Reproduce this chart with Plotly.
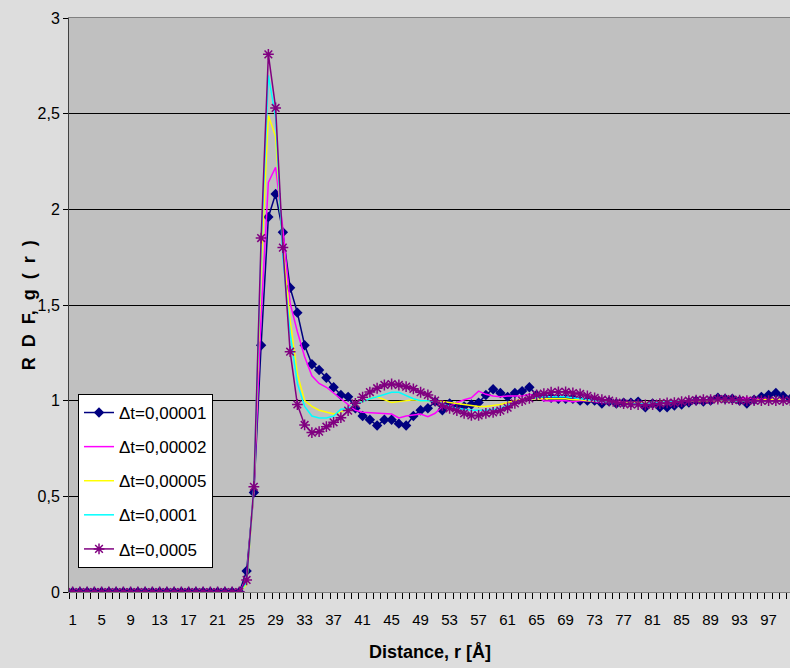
import plotly.graph_objects as go

r = list(range(1, 101))

dt_00001 = [0, 0, 0, 0, 0, 0, 0, 0, 0, 0, 0, 0, 0, 0, 0, 0, 0, 0, 0, 0, 0, 0, 0, 0,
            0.11, 0.52, 1.29, 1.96, 2.08, 1.88, 1.59, 1.46, 1.29, 1.19, 1.16, 1.12, 1.07, 1.03, 1.02, 0.96,
            0.92, 0.90, 0.87, 0.90, 0.90, 0.88, 0.87, 0.92, 0.95, 0.96, 0.995, 0.95, 0.985, 0.97, 0.97, 0.98,
            0.99, 1.03, 1.06, 1.04, 1.02, 1.04, 1.05, 1.07, 1.03, 1.02, 1.015, 1.01, 1.01, 1.01, 1.0, 1.0,
            1.0, 0.985, 0.995, 0.985, 0.99, 0.99, 0.995, 0.965, 0.985, 0.965, 0.965, 0.975, 0.98, 0.99, 1.0, 0.995,
            1.0, 1.015, 1.01, 1.01, 1.0, 0.985, 1.005, 1.02, 1.03, 1.04, 1.025, 1.01]

dt_00002 = [0, 0, 0, 0, 0, 0, 0, 0, 0, 0, 0, 0, 0, 0, 0, 0, 0, 0, 0, 0, 0, 0, 0, 0,
            0.07, 0.53, 1.45, 2.14, 2.22, 1.90, 1.51, 1.36, 1.23, 1.13, 1.09, 1.07, 1.04, 1.01, 0.985, 0.95,
            0.94, 0.937, 0.935, 0.93, 0.93, 0.91, 0.92, 0.925, 0.93, 0.916, 0.934, 0.97, 0.97, 0.99, 1.005, 1.015,
            1.05, 1.033, 1.024, 1.02, 1.024, 1.024, 1.024, 1.033, 1.02, 1.0, 0.998, 1.0, 1.0, 0.995, 1.0, 1.0,
            0.995, 0.99, 0.99, 0.995, 0.99, 0.99, 0.99, 0.985, 0.99, 0.99, 0.995, 0.995, 1.0, 1.0, 1.0, 1.005,
            1.0, 1.0, 1.005, 1.0, 1.01, 1.015, 1.01, 1.01, 1.005, 1.0, 1.0, 1.0]

dt_00005 = [0, 0, 0, 0, 0, 0, 0, 0, 0, 0, 0, 0, 0, 0, 0, 0, 0, 0, 0, 0, 0, 0, 0, 0,
            0.04, 0.54, 1.70, 2.49, 2.38, 1.80, 1.42, 1.14, 1.00, 0.97, 0.95, 0.94, 0.93, 0.94, 0.96, 0.98,
            0.995, 1.01, 1.02, 1.005, 0.99, 0.995, 1.0, 1.005, 1.0, 1.0, 0.998, 0.995, 0.99, 0.985, 0.98, 0.975,
            0.97, 0.97, 0.975, 0.98, 0.99, 1.0, 1.005, 1.01, 1.01, 1.01, 1.01, 1.01, 1.01, 1.005, 1.005, 1.0,
            1.0, 0.995, 0.995, 0.99, 0.99, 0.99, 0.99, 0.99, 0.99, 0.995, 0.995, 0.995, 1.0, 1.0, 1.0, 1.0,
            1.0, 1.0, 1.0, 1.0, 1.0, 1.0, 1.0, 1.005, 1.005, 1.005, 1.0, 1.0]

dt_0001 = [0, 0, 0, 0, 0, 0, 0, 0, 0, 0, 0, 0, 0, 0, 0, 0, 0, 0, 0, 0, 0, 0, 0, 0,
           0.05, 0.55, 1.80, 2.70, 2.48, 1.75, 1.35, 1.09, 0.97, 0.92, 0.91, 0.91, 0.92, 0.955, 0.96, 0.98,
           0.995, 1.01, 1.02, 1.03, 1.044, 1.044, 1.027, 1.01, 1.0, 1.0, 0.995, 0.985, 0.97, 0.96, 0.955, 0.95,
           0.95, 0.95, 0.955, 0.96, 0.975, 0.99, 1.0, 1.01, 1.015, 1.02, 1.02, 1.02, 1.02, 1.015, 1.01, 1.005,
           1.0, 0.995, 0.99, 0.99, 0.985, 0.985, 0.985, 0.985, 0.99, 0.99, 0.995, 0.995, 1.0, 1.0, 1.005, 1.005,
           1.005, 1.005, 1.005, 1.0, 1.0, 1.0, 1.0, 1.0, 1.0, 1.0, 1.0, 1.0]

dt_0005 = [0, 0, 0, 0, 0, 0, 0, 0, 0, 0, 0, 0, 0, 0, 0, 0, 0, 0, 0, 0, 0, 0, 0, 0,
           0.063, 0.55, 1.85, 2.81, 2.53, 1.80, 1.256, 0.98, 0.873, 0.833, 0.838, 0.864, 0.887, 0.911, 0.948, 0.986,
           1.018, 1.045, 1.065, 1.082, 1.087, 1.082, 1.073, 1.062, 1.044, 1.03, 1.0, 0.975, 0.96, 0.948, 0.934, 0.923,
           0.923, 0.934, 0.939, 0.948, 0.963, 0.986, 1.0, 1.012, 1.03, 1.037, 1.044, 1.046, 1.046, 1.04, 1.035, 1.025,
           1.015, 1.005, 1.0, 0.99, 0.985, 0.98, 0.98, 0.978, 0.98, 0.985, 0.988, 0.99, 0.995, 1.0, 1.003, 1.005,
           1.005, 1.008, 1.008, 1.005, 1.003, 1.0, 1.0, 1.0, 1.0, 1.0, 1.0, 1.0]

series_names = ["Δt=0,00001", "Δt=0,00002", "Δt=0,00005", "Δt=0,0001", "Δt=0,0005"]
x_tick_vals = list(range(1, 100, 4))
x_tick_text = [str(v) for v in x_tick_vals]

FONT = "Liberation Sans, Arial, sans-serif"
NB = "\u00a0"
y_title = "R" + NB * 2 + "D" + NB * 2 + "F," + NB * 2 + "g" + NB * 2 + "(" + NB * 2 + "r" + NB * 2 + ")"

fig = go.Figure()

fig.add_trace(go.Scatter(x=r, y=dt_00001, name=series_names[0], mode="lines+markers",
                         line=dict(color="#000080", width=1.5),
                         marker=dict(symbol="diamond", size=8, color="#000080"),
                         legendgroup="a"))
fig.add_trace(go.Scatter(x=r, y=dt_00002, name=series_names[1], mode="lines",
                         line=dict(color="#FF00FF", width=1.5), legendgroup="b"))
fig.add_trace(go.Scatter(x=r, y=dt_00005, name=series_names[2], mode="lines",
                         line=dict(color="#FFFF00", width=1.5), legendgroup="c"))
fig.add_trace(go.Scatter(x=r, y=dt_0001, name=series_names[3], mode="lines",
                         line=dict(color="#00FFFF", width=1.5), legendgroup="d"))
fig.add_trace(go.Scatter(x=r, y=dt_0005, name=series_names[4], mode="lines+markers",
                         line=dict(color="#800080", width=1.5),
                         marker=dict(symbol="asterisk-open", size=9,
                                     line=dict(color="#800080", width=1.5)),
                         legendgroup="e"))

fig.update_layout(
    width=790, height=668,
    margin=dict(l=69, r=0, t=18, b=76),
    paper_bgcolor="#DDDDDD",
    plot_bgcolor="#C0C0C0",
    separators=",.",
    font=dict(family=FONT, color="#000000", size=16),
    showlegend=True,
    legend=dict(x=0.0125, y=0.345, xanchor="left", yanchor="top",
                bgcolor="#FFFFFF", bordercolor="#000000", borderwidth=1,
                font=dict(family=FONT, size=17, color="#000000"),
                tracegroupgap=9, itemwidth=30),
    xaxis=dict(range=[0.5, 99.95], tickmode="array", tickvals=x_tick_vals, ticktext=x_tick_text,
               ticks="outside", ticklen=14, tickcolor="rgba(0,0,0,0)",
               showgrid=False, zeroline=False,
               showline=True, linecolor="#808080", linewidth=1, mirror=True,
               tickfont=dict(family=FONT, size=15),
               minor=dict(ticks="outside", tickmode="linear", tick0=0.5, dtick=1,
                          ticklen=6, tickcolor="#000000", showgrid=False)),
    yaxis=dict(range=[0, 3], dtick=0.5, tick0=0,
               ticks="outside", ticklen=5, tickcolor="#000000",
               showgrid=True, gridcolor="#000000", gridwidth=1,
               zeroline=False, showline=True, linecolor="#404040", linewidth=1,
               tickfont=dict(family=FONT, size=16)),
    annotations=[
        dict(text="<b>Distance, r [Å]</b>", x=0.5, y=-0.105, xref="paper", yref="paper",
             xanchor="center", yanchor="middle", showarrow=False,
             font=dict(family=FONT, size=18)),
        dict(text="<b>" + y_title + "</b>", x=-0.055, y=0.5, xref="paper", yref="paper",
             xanchor="center", yanchor="middle", showarrow=False, textangle=-90,
             font=dict(family=FONT, size=18)),
    ],
)

fig.write_html("out.html")
